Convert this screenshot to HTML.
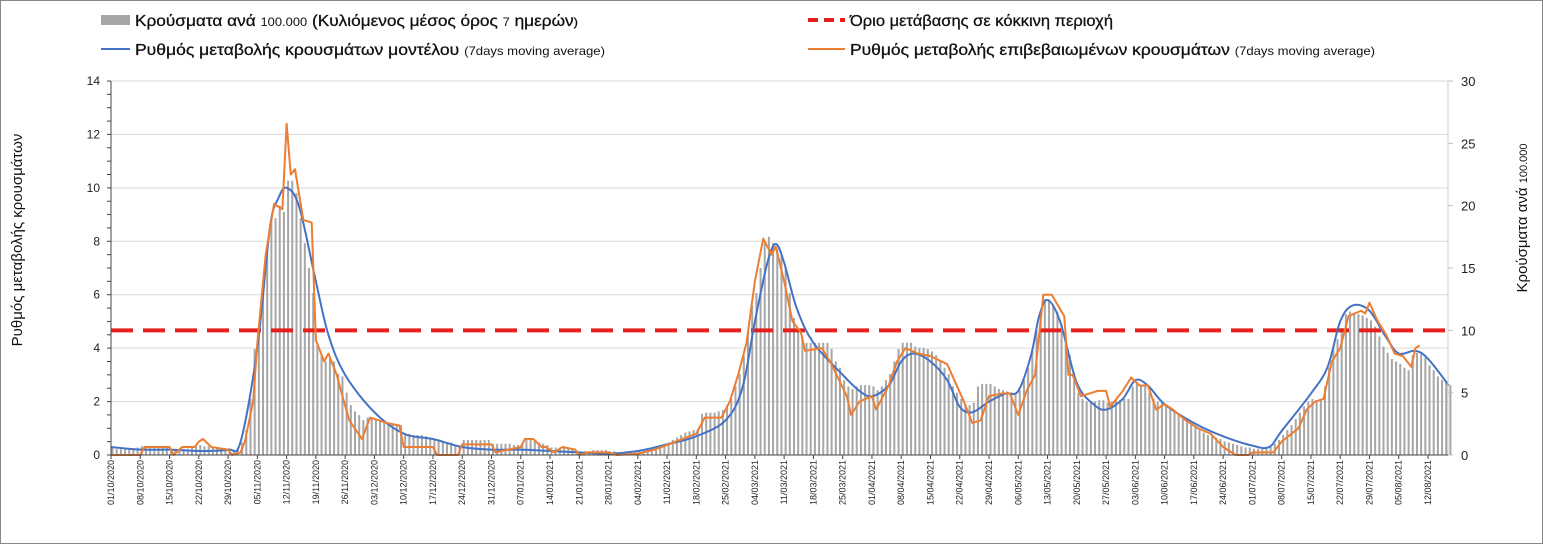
<!DOCTYPE html>
<html><head><meta charset="utf-8"><style>
html,body{margin:0;padding:0;background:#fff;}
svg{display:block;font-family:"Liberation Sans Narrow","Liberation Sans","DejaVu Sans",sans-serif;}
</style></head><body>
<svg id="chart" width="1543" height="544" viewBox="0 0 1543 544">
<rect x="0.5" y="0.5" width="1542" height="543" fill="#fff" stroke="#888"/>
<g id="grid"></g>
<g id="bars"></g>
<g id="lines"></g>
<g id="axes"></g>
<g>
 <rect x="101" y="15" width="29" height="10" fill="#a6a6a6"/>
 <text x="135" y="26" font-size="16" fill="#111" stroke="#111" stroke-width="0.3" textLength="443" lengthAdjust="spacingAndGlyphs">Κρούσματα ανά <tspan font-size="12" stroke-width="0">100.000</tspan> (Κυλιόμενος μέσος όρος <tspan font-size="12" stroke-width="0">7</tspan> ημερών<tspan font-size="12">)</tspan></text>
 <line x1="101" y1="49" x2="130" y2="49" stroke="#4472c4" stroke-width="2"/>
 <text x="135" y="55" font-size="16" fill="#111" stroke="#111" stroke-width="0.3" textLength="470" lengthAdjust="spacingAndGlyphs">Ρυθμός μεταβολής κρουσμάτων μοντέλου <tspan font-size="12" stroke-width="0">(7days moving average)</tspan></text>
 <line x1="808" y1="20" x2="845" y2="20" stroke="#e3201b" stroke-width="4" stroke-dasharray="10,6"/>
 <text x="850" y="26" font-size="16" fill="#111" stroke="#111" stroke-width="0.3" textLength="263" lengthAdjust="spacingAndGlyphs">Όριο μετάβασης σε κόκκινη περιοχή</text>
 <line x1="808" y1="49" x2="845" y2="49" stroke="#ed7d31" stroke-width="2"/>
 <text x="850" y="55" font-size="16" fill="#111" stroke="#111" stroke-width="0.3" textLength="525" lengthAdjust="spacingAndGlyphs">Ρυθμός μεταβολής επιβεβαιωμένων κρουσμάτων <tspan font-size="12" stroke-width="0">(7days moving average)</tspan></text>
</g>
<text transform="translate(22,240) rotate(-90)" text-anchor="middle" font-size="15" fill="#111">Ρυθμός μεταβολής κρουσμάτων</text>
<text transform="translate(1527,218) rotate(-90)" text-anchor="middle" font-size="15" fill="#111">Κρούσματα ανά <tspan font-size="11">100.000</tspan></text>
</svg>
<script>
const leftTicks=[0,2,4,6,8,10,12,14];
const rightTicks=[0,5,10,15,20,25,30];
const threshold=10;
const startDate=[2020,10,1];
const labelEvery=7;
const modelDays=[0,7,14,21,28,31,35,38,40,42,45,49,52,56,63,70,77,84,91,98,105,112,119,126,133,140,147,151,154,157,159,161,164,168,175,179,182,186,189,192,196,200,203,206,210,214,217,220,222,224,227,231,235,238,242,245,248,252,259,266,273,277,280,287,291,294,297,301,305,308,312,315,320];
const modelVals=[0.3,0.2,0.2,0.15,0.2,0.5,4.0,8.5,9.6,10.0,9.3,6.5,4.5,3.0,1.6,0.8,0.6,0.3,0.2,0.2,0.15,0.1,0.05,0.15,0.4,0.7,1.3,2.5,5.0,7.2,7.9,7.2,5.5,4.2,3.0,2.4,2.2,2.6,3.5,3.8,3.5,2.8,1.8,1.6,2.0,2.3,2.4,3.7,5.2,5.8,5.0,2.7,1.9,1.7,2.1,2.8,2.6,1.9,1.2,0.7,0.35,0.3,0.9,2.3,3.3,5.0,5.6,5.4,4.4,3.8,3.9,3.6,2.6];
const confDays=[0,7,8,14,15,17,20,21,22,24,28,29,31,32,34,35,37,39,41,42,43,44,46,48,49,51,52,54,55,57,60,62,66,69,70,77,78,83,84,91,92,98,99,101,103,104,106,108,111,112,114,119,121,126,130,135,140,142,146,148,150,152,154,156,158,159,161,163,165,166,170,172,176,177,179,182,183,186,188,190,193,196,200,204,206,208,210,213,215,217,219,221,223,225,228,229,230,232,236,238,239,242,244,246,248,250,252,254,257,260,263,266,269,272,273,278,280,284,286,288,290,292,294,296,299,300,301,303,305,307,309,311,312,313];
const confVals=[0,0,0.3,0.3,0,0.3,0.3,0.5,0.6,0.3,0.2,0,0.1,0.5,2.0,4.2,7.5,9.4,9.2,12.4,10.5,10.7,8.8,8.7,4.3,3.5,3.8,3.0,2.4,1.3,0.6,1.4,1.2,1.1,0.3,0.3,0,0,0.4,0.4,0.1,0.3,0.6,0.6,0.3,0.3,0.1,0.3,0.2,0,0.1,0.1,0,0.05,0.2,0.5,0.8,1.4,1.4,2.0,3.0,4.2,6.5,8.1,7.5,7.8,6.5,5.0,4.6,3.9,4.0,3.5,2.2,1.5,2.0,2.2,1.7,2.6,3.5,4.0,3.8,3.7,3.4,2.0,1.2,1.3,2.2,2.3,2.3,1.5,2.4,3.0,6.0,6.0,5.2,3.0,3.0,2.2,2.4,2.4,1.8,2.4,2.9,2.6,2.6,1.7,1.9,1.7,1.3,1.0,0.8,0.3,0,0,0.1,0.1,0.5,1.0,1.7,2.0,2.1,3.5,4.0,5.2,5.4,5.3,5.7,5.0,4.5,3.8,3.7,3.3,4.0,4.1];
const barVals=[
0.6,0.5,0.5,0.5,0.5,0.5,0.6, 0.7,0.7,0.7,0.7,0.7,0.6,0.6, 0.3,0.4,0.4,0.5,0.5,0.6,0.7, 0.8,0.7,0.7,0.6,0.6,0.5,0.5,
0.4,0.4,0.6,1.0,2.0,4.5,8.5, 9.5,14,16.5,19,19,20,19.5, 22,22,21,19,17,15,13, 9,8,7.5,7.8,7.5,6.5,6.3,
5,4,3.5,3.2,2.8,3.0,3.0, 2.9,2.8,2.7,2.6,2.5,2.5,2.4, 1.7,1.7,1.6,1.6,1.6,1.5,1.4, 1.3,1.2,1.1,1.0,1.0,0.8,0.7,
1.2,1.2,1.2,1.2,1.2,1.2,1.2, 0.9,0.9,0.9,0.9,0.9,0.8,0.8, 0.9,1.2,1.2,1.1,1.0,0.9,0.8, 0.6,0.6,0.6,0.6,0.6,0.5,0.4,
0.3,0.3,0.3,0.4,0.4,0.4,0.4, 0.3,0.3,0.2,0.2,0.2,0.2,0.3, 0.4,0.4,0.5,0.6,0.7,0.8,0.9, 1.0,1.2,1.4,1.6,1.8,1.9,2.0,
2.1,3.3,3.4,3.4,3.4,3.5,3.6, 4.0,4.5,5.5,6.5,8.0,10,12, 13,15,17,17.5,17,16.5,16, 15,13,11,10,9.5,9,9,
9,9,9,9,8.5,7.5,7, 6,5.5,5.3,5.5,5.6,5.6,5.6, 5.5,5.2,5.5,6,6.5,7.5,8.5, 9,9,9,8.7,8.6,8.6,8.5,
8.3,8,7.5,7,6.5,5.5,5, 4.5,4,4,4.2,5.5,5.7,5.7, 5.7,5.5,5.3,5.2,5.1,5,5, 5.2,6,7,8.5,10,11.5,12.5,
12.5,12,11.5,10.5,9,8,6, 5,4.5,4.3,4.2,4.3,4.4,4.4, 4.2,4.3,4.4,4.4,4.5,4.5,5.5, 5.8,5.6,5.5,5.0,4.5,4.3,4.2,
4.0,3.8,3.6,3.3,3.0,2.7,2.5, 2.3,2.0,1.8,1.6,1.5,1.4,1.3, 1.1,1.0,0.9,0.8,0.7,0.6,0.6, 0.5,0.5,0.5,0.6,0.7,0.9,1.2,
1.6,2.0,2.4,2.9,3.4,3.9,4.3, 4.5,4.4,4.5,5.5,7,8.5,9.3, 10.2,11.3,11.5,11.4,11.3,11.2,11, 10.8,10.3,9.5,8.7,8.2,7.7,7.5,
7.3,7.0,6.8,8,8.2,8.1,7.8, 7.2,6.8,6.3,6.0,5.8,5.6];

const NS="http://www.w3.org/2000/svg";
const X0=111,PXD=4.181,Y0=455,YT=81,XR=1448;
const xS=d=>X0+d*PXD;
const yL=v=>Y0-v*(Y0-YT)/14;
const yR=v=>Y0-v*(Y0-YT)/30;
function mk(tag,attrs,parent){const e=document.createElementNS(NS,tag);for(const k in attrs)e.setAttribute(k,attrs[k]);parent.appendChild(e);return e;}
function smooth(pts){let d='M'+pts[0][0]+','+pts[0][1];
 for(let i=0;i<pts.length-1;i++){const p0=pts[i-1]||pts[i],p1=pts[i],p2=pts[i+1],p3=pts[i+2]||p2;
  const t=1/6;d+=' C'+(p1[0]+(p2[0]-p0[0])*t)+','+(p1[1]+(p2[1]-p0[1])*t)+' '+(p2[0]-(p3[0]-p1[0])*t)+','+(p2[1]-(p3[1]-p1[1])*t)+' '+p2[0]+','+p2[1];}
 return d;}
const grid=document.getElementById('grid'),bars=document.getElementById('bars'),lines=document.getElementById('lines'),axes=document.getElementById('axes');
leftTicks.forEach(v=>{
 if(v>0){const g=mk('line',{x1:X0,x2:XR,y1:yL(v),y2:yL(v),stroke:'#d9d9d9','stroke-width':1},grid);
 
 }
 const t=mk('text',{x:100,y:yL(v)+4,'text-anchor':'end','font-size':12,fill:'#222'},axes);t.textContent=v;
 
 
});
for(let v=0;v<=14;v+=0.5){const m=mk('line',{x1:X0-4,x2:X0,y1:yL(v),y2:yL(v),stroke:'#444'},axes);
 
 }
rightTicks.forEach(v=>{
 const t=mk('text',{x:1461,y:yR(v)+5,'font-size':13,fill:'#222'},axes);t.textContent=v;
 
 
 const m=mk('line',{x1:XR,x2:XR+5,y1:yR(v),y2:yR(v),stroke:'#bbb'},axes);
 
 
});
const la=mk('line',{x1:X0,x2:X0,y1:YT,y2:Y0,stroke:'#444'},axes);


const ra=mk('line',{x1:XR,x2:XR,y1:YT,y2:Y0,stroke:'#ccc'},axes);


const xa=mk('line',{x1:X0,x2:XR,y1:Y0,y2:Y0,stroke:'#444'},axes);


barVals.forEach((v,i)=>{
 const r=mk('rect',{x:xS(i)+0.5,y:yR(v),width:2,height:Y0-yR(v),fill:'#a6a6a6'},bars);
 
 
});
const thr=mk('line',{x1:X0,x2:XR,y1:yR(threshold),y2:yR(threshold),stroke:'#e3201b','stroke-width':4,'stroke-dasharray':'22,10'},lines);


const pm=mk('path',{d:smooth(modelDays.map((d,i)=>[xS(d),yL(modelVals[i])])),fill:'none',stroke:'#4472c4','stroke-width':2,'stroke-linejoin':'round'},lines);


const pc=mk('polyline',{points:confDays.map((d,i)=>xS(d)+','+yL(confVals[i])).join(' '),fill:'none',stroke:'#ed7d31','stroke-width':2,'stroke-linejoin':'round'},lines);


const nDays=barVals.length;
for(let d=0;d<nDays;d+=labelEvery){
 const dt=new Date(startDate[0],startDate[1]-1,startDate[2]+d);
 const s=String(dt.getDate()).padStart(2,'0')+'/'+String(dt.getMonth()+1).padStart(2,'0')+'/'+dt.getFullYear();
 const m=mk('line',{x1:xS(d),x2:xS(d),y1:Y0,y2:Y0+4,stroke:'#444'},axes);
 
 
 const t=mk('text',{transform:'translate('+(xS(d)+3)+','+(Y0+5)+') rotate(-90)','text-anchor':'end','font-size':9,fill:'#222'},axes);
 t.textContent=s;
 
 
}
</script>
</body></html>
